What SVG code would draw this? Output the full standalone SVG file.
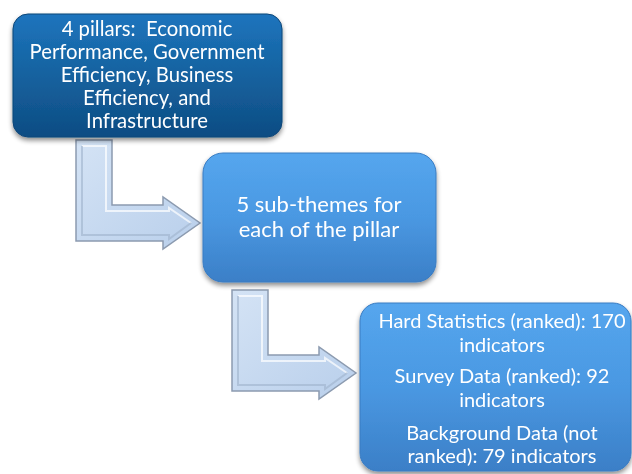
<svg xmlns="http://www.w3.org/2000/svg" width="632" height="474" viewBox="0 0 632 474">
  <defs>
    <linearGradient id="gDark" x1="0" y1="0" x2="0" y2="1">
      <stop offset="0" stop-color="#1d74bd"/>
      <stop offset="0.5" stop-color="#15629f"/>
      <stop offset="1" stop-color="#0e4c83"/>
    </linearGradient>
    <linearGradient id="gLight" x1="0" y1="0" x2="0" y2="1">
      <stop offset="0" stop-color="#55a6ee"/>
      <stop offset="0.5" stop-color="#4a98e2"/>
      <stop offset="1" stop-color="#3b7fc7"/>
    </linearGradient>
    <linearGradient id="gArrow" x1="0" y1="0" x2="1" y2="1">
      <stop offset="0" stop-color="#d4e3f5"/>
      <stop offset="1" stop-color="#b9cfeb"/>
    </linearGradient>
    <filter id="shadow" x="-10%" y="-10%" width="120%" height="130%">
      <feGaussianBlur in="SourceAlpha" stdDeviation="2.5"/>
      <feOffset dx="0" dy="3" result="b"/>
      <feComponentTransfer><feFuncA type="linear" slope="0.45"/></feComponentTransfer>
      <feMerge><feMergeNode/><feMergeNode in="SourceGraphic"/></feMerge>
    </filter>
    <!-- bent arrow, origin at the top-left of its stem -->
    <g id="bentArrow">
      <path d="M0 0 H36 V65 H87 V57 L124 83 L87 109 V101 H0 Z" fill="url(#gArrow)" stroke="#8c9bb0" stroke-width="1.5" stroke-linejoin="miter"/>
      <!-- bevel highlights -->
      <path d="M6 6 H30 V71 H93 V68 L115 83" fill="none" stroke="#ffffff" stroke-opacity="0.7" stroke-width="2"/>
      <path d="M6 6 V95 H93 V99 L115 83" fill="none" stroke="#9fb3cc" stroke-opacity="0.6" stroke-width="2"/>
    </g>
  </defs>
  <style>
    .lbl { font-family: Lato, "Open Sans", "Liberation Sans", sans-serif; fill: #ffffff; text-anchor: middle; white-space: pre; }
    .s1 { font-size: 20.3px; }
    .s2 { font-size: 22px; }
    .s3 { font-size: 20px; }
  </style>

  <rect width="632" height="474" fill="#ffffff"/>

  <g id="connectors">
    <use href="#bentArrow" x="76" y="140"/>
    <use href="#bentArrow" x="232" y="290"/>
  </g>

  <g id="pillars" filter="url(#shadow)">
    <rect x="13" y="14" width="269" height="123" rx="15" fill="url(#gDark)" stroke="#0c4678" stroke-width="1"/>
    <text class="lbl s1" x="147" y="36" xml:space="preserve">4 pillars:  Economic</text>
    <text class="lbl s1" x="147" y="59">Performance, Government</text>
    <text class="lbl s1" x="147" y="82">Efficiency, Business</text>
    <text class="lbl s1" x="147" y="105">Efficiency, and</text>
    <text class="lbl s1" x="147" y="128">Infrastructure</text>
  </g>

  <g id="subthemes" filter="url(#shadow)">
    <rect x="203" y="153" width="233" height="129" rx="20" fill="url(#gLight)" stroke="#3a7cc2" stroke-width="1"/>
    <text class="lbl s2" x="319" y="212">5 sub-themes for</text>
    <text class="lbl s2" x="319" y="237">each of the pillar</text>
  </g>

  <g id="indicators" filter="url(#shadow)">
    <rect x="360" y="303" width="271" height="168" rx="18" fill="url(#gLight)" stroke="#3a7cc2" stroke-width="1"/>
    <text class="lbl s3" x="502" y="328">Hard Statistics (ranked): 170</text>
    <text class="lbl s3" x="502" y="352">indicators</text>
    <text class="lbl s3" x="502" y="383">Survey Data (ranked): 92</text>
    <text class="lbl s3" x="502" y="407">indicators</text>
    <text class="lbl s3" x="502" y="440">Background Data (not</text>
    <text class="lbl s3" x="502" y="463">ranked): 79 indicators</text>
  </g>
</svg>
